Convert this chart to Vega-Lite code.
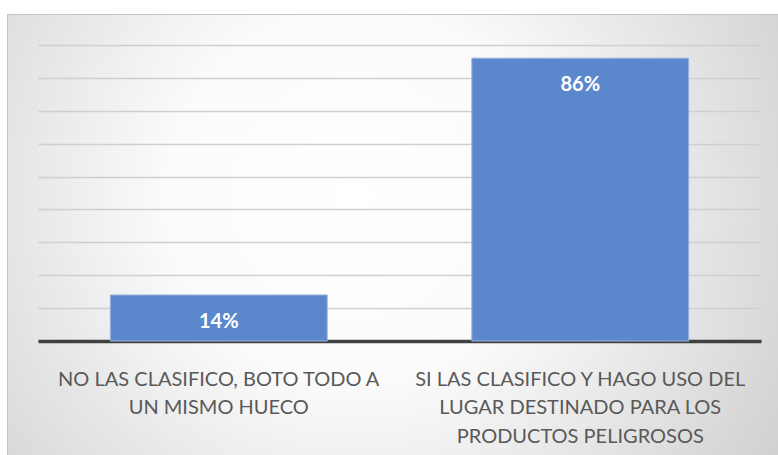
{
  "$schema": "https://vega.github.io/schema/vega-lite/v6.json",
  "width": 771,
  "height": 441,
  "autosize": {"type": "none"},
  "padding": {"left": 7, "top": 14, "right": 0, "bottom": 0},
  "background": "#ffffff",
  "config": {
    "view": {
      "fill": {
        "gradient": "radial",
        "x1": 0.45, "y1": 0.45, "r1": 0,
        "x2": 0.45, "y2": 0.45, "r2": 0.8,
        "stops": [
          {"offset": 0, "color": "#ffffff"},
          {"offset": 0.3, "color": "#fbfbfb"},
          {"offset": 1, "color": "#c0c0c0"}
        ]
      },
      "stroke": "#c4c4c4",
      "strokeWidth": 1
    }
  },
  "data": {
    "values": [
      {"respuesta": "NO LAS CLASIFICO, BOTO TODO A UN MISMO HUECO", "porcentaje": 0.14},
      {"respuesta": "SI LAS CLASIFICO Y HAGO USO DEL LUGAR DESTINADO PARA LOS PRODUCTOS PELIGROSOS", "porcentaje": 0.86}
    ]
  },
  "encoding": {
    "x": {
      "field": "respuesta",
      "type": "nominal",
      "sort": null,
      "scale": {"range": [31, 754], "paddingInner": 0.4, "paddingOuter": 0.2},
      "axis": {
        "title": null,
        "offset": -114,
        "domainColor": "#404040",
        "domainWidth": 3.5,
        "ticks": false,
        "grid": false,
        "labelAngle": 0,
        "labelFont": "Lato",
        "labelFontSize": 20,
        "labelColor": "#595959",
        "labelPadding": 28,
        "labelLineHeight": 28.5,
        "labelLimit": 0,
        "labelExpr": "datum.value == 'NO LAS CLASIFICO, BOTO TODO A UN MISMO HUECO' ? ['NO LAS CLASIFICO, BOTO TODO A', 'UN MISMO HUECO'] : ['SI LAS CLASIFICO Y HAGO USO DEL', 'LUGAR DESTINADO PARA LOS', 'PRODUCTOS PELIGROSOS']"
      }
    },
    "y": {
      "field": "porcentaje",
      "type": "quantitative",
      "scale": {"domain": [0, 0.9], "range": [327, 31], "nice": false},
      "axis": {
        "title": null,
        "labels": false,
        "ticks": false,
        "domain": false,
        "values": [0, 0.1, 0.2, 0.3, 0.4, 0.5, 0.6, 0.7, 0.8, 0.9],
        "gridColor": "#cfcfcf",
        "gridWidth": 1.5
      }
    }
  },
  "layer": [
    {"mark": {"type": "bar", "color": "#5b87cc", "stroke": "#9bb4e0", "strokeWidth": 1}},
    {
      "mark": {"type": "text", "baseline": "alphabetic", "dy": 33, "font": "Lato", "fontSize": 20, "fontWeight": "bold", "color": "#ffffff"},
      "encoding": {"text": {"field": "porcentaje", "type": "quantitative", "format": ".0%"}}
    }
  ]
}
